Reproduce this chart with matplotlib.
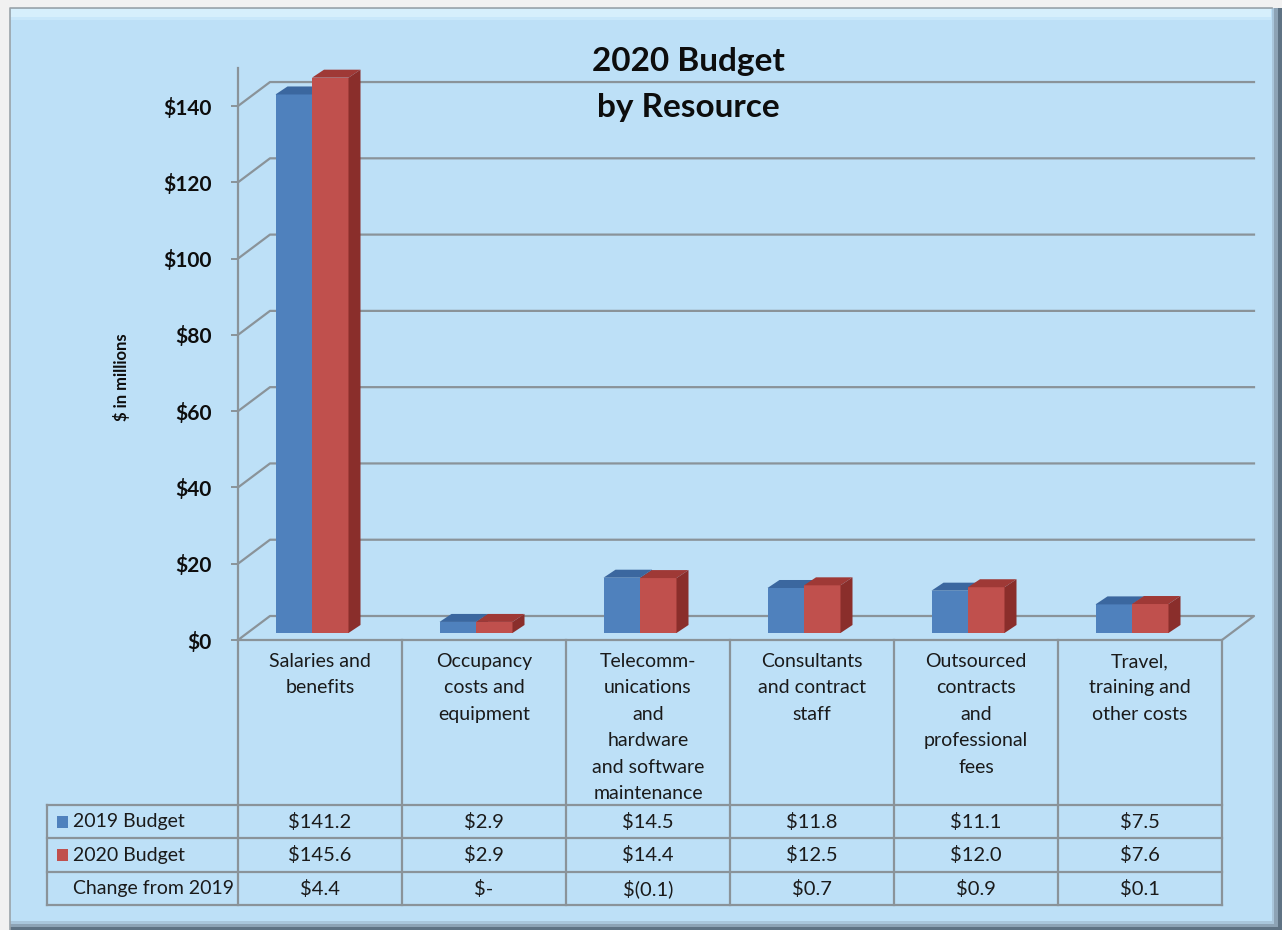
import matplotlib
matplotlib.use("Agg")
import matplotlib.pyplot as plt
from matplotlib.patches import Polygon, Rectangle
from matplotlib.ticker import FuncFormatter

# ---------------- data ----------------
categories = [
    "Salaries and\nbenefits",
    "Occupancy\ncosts and\nequipment",
    "Telecomm-\nunications\nand\nhardware\nand software\nmaintenance",
    "Consultants\nand contract\nstaff",
    "Outsourced\ncontracts\nand\nprofessional\nfees",
    "Travel,\ntraining and\nother costs",
]
budget_2019 = [141.2, 2.9, 14.5, 11.8, 11.1, 7.5]
budget_2020 = [145.6, 2.9, 14.4, 12.5, 12.0, 7.6]
change_labels = ["$4.4", "$-", "$(0.1)", "$0.7", "$0.9", "$0.1"]
series_names = ["2019 Budget", "2020 Budget", "Change from 2019"]
y_ticks = [0, 20, 40, 60, 80, 100, 120, 140]
title_lines = ["2020 Budget", "by Resource"]
y_label = "$ in millions"

# ---------------- style ----------------
plt.rcParams["font.family"] = ["Lato", "DejaVu Sans"]
plt.rcParams["text.parse_math"] = False

W, H = 1282, 930
fig = plt.figure(figsize=(W / 100, H / 100), dpi=100, facecolor="#f1f1f1")

PANEL = "#bde0f7"
GRID = "#8a9399"
BLUE_F, BLUE_T = "#4f81bd", "#3b679f"
RED_F, RED_T, RED_S = "#c0504d", "#9f3936", "#8a2e2b"
TXT = "#1a1a1a"

# background panel (figure pixel coordinates)
bg = fig.add_axes([0, 0, 1, 1], zorder=-10)
bg.set_xlim(0, W)
bg.set_ylim(H, 0)
bg.axis("off")
bg.add_patch(Rectangle((10, 8), W - 10, H - 8, color="#5f7384", lw=0))
bg.add_patch(Rectangle((10, 8), W - 14, H - 11, color="#8da3b5", lw=0))
bg.add_patch(Rectangle((10, 8), W - 18, H - 14, color="#a9c6db", lw=0))
bg.add_patch(Rectangle((10, 8), 1262, 913, color=PANEL, lw=0))
bg.add_patch(Rectangle((11, 9), 1260, 8, color="#d6effc", lw=0))
bg.add_patch(Rectangle((11, 17), 1260, 3, color="#c8e7fa", lw=0))
bg.plot([10, 10, 1272], [H, 8, 8], color="#9aa3a9", lw=1.2)

# title and y label
bg.text(688, 62, title_lines[0], ha="center", va="center", fontsize=24,
        fontweight="bold", color="#0d0d0d")
bg.text(688, 107, title_lines[1], ha="center", va="center", fontsize=24,
        fontweight="bold", color="#0d0d0d")
bg.text(122, 377, y_label, ha="center", va="center", rotation=90,
        fontsize=12, fontweight="bold", color="#0d0d0d")

# ---------------- main 3D-looking chart ----------------
PX_Y = 3.814            # pixels per $1M
Y_TOP = 150
y0_px = 640
top_px = y0_px - Y_TOP * PX_Y
ax = fig.add_axes([238 / W, (H - y0_px) / H, 984 / W, (y0_px - top_px) / H])
ax.set_facecolor("none")
n = len(categories)
ax.set_xlim(-0.5, n - 0.5)
ax.set_ylim(0, Y_TOP)
PX_X = 984 / n

DX, DY = 32 / PX_X, 24 / PX_Y          # wall depth
BDX, BDY = 12 / PX_X, 8 / PX_Y         # bar depth
B0 = 7 / PX_Y                          # bar base lift
BW = 36.5 / PX_X                       # bar width
SHIFT = -8 / PX_X                      # group shift

for s in ["top", "right", "bottom"]:
    ax.spines[s].set_visible(False)
ax.spines["left"].set_color(GRID)
ax.spines["left"].set_linewidth(1.6)
ax.set_xticks([])
ax.set_yticks(y_ticks)
ax.yaxis.set_major_formatter(FuncFormatter(lambda v, p: f"${int(v)}"))
ax.tick_params(axis="y", direction="out", length=5, width=1.4, color=GRID,
               pad=14, labelsize=15, labelcolor="#0d0d0d")
for lab in ax.get_yticklabels():
    lab.set_fontweight("bold")

x_l, x_r = -0.5, n - 0.5
for v in y_ticks:
    if v == 0:
        ax.plot([x_l, x_l + DX, x_r + DX, x_r, x_l], [v, v + DY, v + DY, v, v],
                color=GRID, lw=1.6, clip_on=False, zorder=1)
    else:
        ax.plot([x_l, x_l + DX, x_r + DX], [v, v + DY, v + DY],
                color=GRID, lw=1.6, clip_on=False, zorder=1)


def draw_bar(x0, val, front, top, side):
    y1 = B0 + val
    ax.add_patch(Polygon([[x0, B0], [x0 + BW, B0], [x0 + BW, y1], [x0, y1]],
                         closed=True, fc=front, ec="none", zorder=3, clip_on=False))
    ax.add_patch(Polygon([[x0, y1], [x0 + BW, y1], [x0 + BW + BDX, y1 + BDY],
                          [x0 + BDX, y1 + BDY]],
                         closed=True, fc=top, ec="none", zorder=3, clip_on=False))
    ax.add_patch(Polygon([[x0 + BW, B0], [x0 + BW + BDX, B0 + BDY],
                          [x0 + BW + BDX, y1 + BDY], [x0 + BW, y1]],
                         closed=True, fc=side, ec="none", zorder=3, clip_on=False))


for i in range(n):
    c = i + SHIFT
    draw_bar(c - BW, budget_2019[i], BLUE_F, BLUE_T, "#2f5585")
    draw_bar(c, budget_2020[i], RED_F, RED_T, RED_S)

# ---------------- data table ----------------
T_H = 265
tax = fig.add_axes([238 / W, (H - y0_px - T_H) / H, 984 / W, T_H / H])
tax.set_facecolor("none")
tax.set_xlim(-0.5, n - 0.5)
tax.set_ylim(T_H, 0)
tax.axis("off")

hdr_l = -0.5 - 191 / PX_X
row_edges = [165, 198, 232, 265]
lkw = dict(color=GRID, lw=1.6, clip_on=False)
for y in row_edges:
    tax.plot([hdr_l, x_r], [y, y], **lkw)
tax.plot([hdr_l, hdr_l], [row_edges[0], row_edges[-1]], **lkw)
for k in range(n + 1):
    xk = -0.5 + k
    tax.plot([xk, xk], [0, T_H], **lkw)

for i, cat in enumerate(categories):
    tax.text(i, 13, cat, ha="center", va="top", multialignment="center",
             fontsize=14, color=TXT, linespacing=1.67)

rows = [[f"${v:.1f}" for v in budget_2019],
        [f"${v:.1f}" for v in budget_2020],
        change_labels]
for r, vals in enumerate(rows):
    yc = (row_edges[r] + row_edges[r + 1]) / 2
    for i, s in enumerate(vals):
        tax.text(i, yc, s, ha="center", va="center", fontsize=14.5, color=TXT)
    tax.text(hdr_l + 26 / PX_X, yc, series_names[r], ha="left", va="center",
             fontsize=14, color=TXT, clip_on=False)

sq_w, sq_h = 11 / PX_X, 12
for r, col in enumerate([BLUE_F, RED_F]):
    yc = (row_edges[r] + row_edges[r + 1]) / 2
    tax.add_patch(Rectangle((hdr_l + 10 / PX_X, yc - sq_h / 2), sq_w, sq_h,
                            fc=col, ec="none", clip_on=False))

fig.savefig("out.png", dpi=100, facecolor=fig.get_facecolor())
